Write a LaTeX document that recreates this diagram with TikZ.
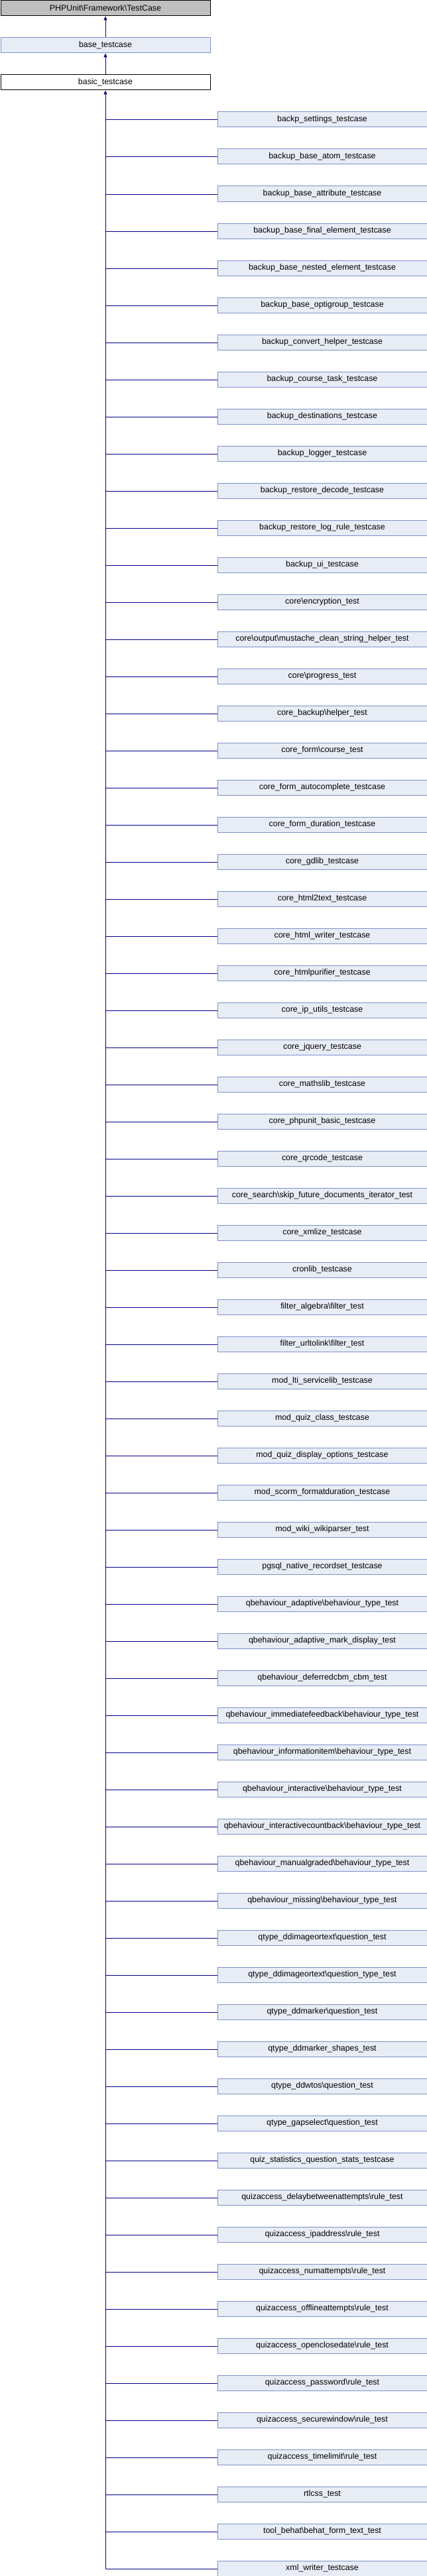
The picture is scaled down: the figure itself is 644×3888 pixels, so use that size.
\documentclass[tikz,border=0pt]{standalone}
\usepackage{fontspec}
\setmainfont{Liberation Sans}
\usetikzlibrary{arrows.meta}

\definecolor{boxfill}{RGB}{232,236,245}
\definecolor{boxline}{RGB}{123,145,200}
\definecolor{linkblue}{RGB}{0,0,140}
\definecolor{extfill}{RGB}{191,191,191}

\tikzset{
  cls/.style={draw=boxline, fill=boxfill, line width=1pt, minimum width=316pt,
    minimum height=23pt, inner sep=0pt, anchor=north west,
    font=\fontsize{12.4}{14}\selectfont},
  extcls/.style={cls, draw=black, fill=extfill},
  curcls/.style={cls, draw=black, fill=white},
  link/.style={draw=linkblue, line width=1pt},
  inh/.style={link, -{Triangle[length=6pt,width=5pt]}}
}

\begin{document}
\begin{tikzpicture}[x=1pt,y=1pt]
\useasboundingbox (0,0) rectangle (644,-3888);

\node[extcls] (phpunit) at (0.5,-0.5) {PHPUnit\textbackslash{}Framework\textbackslash{}TestCase};
\node[cls] (base) at (0.5,-56.5) {base\_testcase};
\node[curcls] (basic) at (0.5,-112.5) {basic\_testcase};

\draw[inh] (base.north) -- (phpunit.south);
\draw[inh] (basic.north) -- (base.south);

\foreach \name [count=\i] in {
  backp\_settings\_testcase,
  backup\_base\_atom\_testcase,
  backup\_base\_attribute\_testcase,
  backup\_base\_final\_element\_testcase,
  backup\_base\_nested\_element\_testcase,
  backup\_base\_optigroup\_testcase,
  backup\_convert\_helper\_testcase,
  backup\_course\_task\_testcase,
  backup\_destinations\_testcase,
  backup\_logger\_testcase,
  backup\_restore\_decode\_testcase,
  backup\_restore\_log\_rule\_testcase,
  backup\_ui\_testcase,
  core\textbackslash{}encryption\_test,
  core\textbackslash{}output\textbackslash{}mustache\_clean\_string\_helper\_test,
  core\textbackslash{}progress\_test,
  core\_backup\textbackslash{}helper\_test,
  core\_form\textbackslash{}course\_test,
  core\_form\_autocomplete\_testcase,
  core\_form\_duration\_testcase,
  core\_gdlib\_testcase,
  core\_html2text\_testcase,
  core\_html\_writer\_testcase,
  core\_htmlpurifier\_testcase,
  core\_ip\_utils\_testcase,
  core\_jquery\_testcase,
  core\_mathslib\_testcase,
  core\_phpunit\_basic\_testcase,
  core\_qrcode\_testcase,
  core\_search\textbackslash{}skip\_future\_documents\_iterator\_test,
  core\_xmlize\_testcase,
  cronlib\_testcase,
  filter\_algebra\textbackslash{}filter\_test,
  filter\_urltolink\textbackslash{}filter\_test,
  mod\_lti\_servicelib\_testcase,
  mod\_quiz\_class\_testcase,
  mod\_quiz\_display\_options\_testcase,
  mod\_scorm\_formatduration\_testcase,
  mod\_wiki\_wikiparser\_test,
  pgsql\_native\_recordset\_testcase,
  qbehaviour\_adaptive\textbackslash{}behaviour\_type\_test,
  qbehaviour\_adaptive\_mark\_display\_test,
  qbehaviour\_deferredcbm\_cbm\_test,
  qbehaviour\_immediatefeedback\textbackslash{}behaviour\_type\_test,
  qbehaviour\_informationitem\textbackslash{}behaviour\_type\_test,
  qbehaviour\_interactive\textbackslash{}behaviour\_type\_test,
  qbehaviour\_interactivecountback\textbackslash{}behaviour\_type\_test,
  qbehaviour\_manualgraded\textbackslash{}behaviour\_type\_test,
  qbehaviour\_missing\textbackslash{}behaviour\_type\_test,
  qtype\_ddimageortext\textbackslash{}question\_test,
  qtype\_ddimageortext\textbackslash{}question\_type\_test,
  qtype\_ddmarker\textbackslash{}question\_test,
  qtype\_ddmarker\_shapes\_test,
  qtype\_ddwtos\textbackslash{}question\_test,
  qtype\_gapselect\textbackslash{}question\_test,
  quiz\_statistics\_question\_stats\_testcase,
  quizaccess\_delaybetweenattempts\textbackslash{}rule\_test,
  quizaccess\_ipaddress\textbackslash{}rule\_test,
  quizaccess\_numattempts\textbackslash{}rule\_test,
  quizaccess\_offlineattempts\textbackslash{}rule\_test,
  quizaccess\_openclosedate\textbackslash{}rule\_test,
  quizaccess\_password\textbackslash{}rule\_test,
  quizaccess\_securewindow\textbackslash{}rule\_test,
  quizaccess\_timelimit\textbackslash{}rule\_test,
  rtlcss\_test,
  tool\_behat\textbackslash{}behat\_form\_text\_test,
  xml\_writer\_testcase}
{
  \node[cls] (c\i) at (327.5,{-(56*(\i+2)+0.5)}) {\name};
  \draw[link] ([yshift=-0.5pt]basic.south |- c\i.west) -- ([yshift=-0.5pt]c\i.west);
}

% trunk from the last child up to basic_testcase
\draw[inh] ([yshift=-0.5pt]basic.south |- c67.west) -- (basic.south);
\end{tikzpicture}
\end{document}
